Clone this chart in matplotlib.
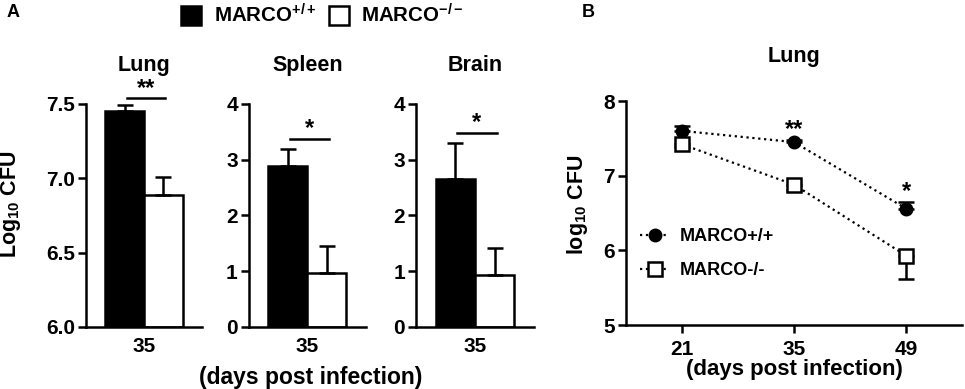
import matplotlib
matplotlib.use("Agg")
import matplotlib.pyplot as plt
from matplotlib.patches import Patch
from matplotlib.lines import Line2D

plt.rcParams['font.family'] = 'Liberation Sans'
plt.rcParams['font.weight'] = 'bold'
plt.rcParams['mathtext.fontset'] = 'custom'
plt.rcParams['mathtext.rm'] = 'Liberation Sans:bold'
plt.rcParams['mathtext.bf'] = 'Liberation Sans:bold'
plt.rcParams['mathtext.it'] = 'Liberation Sans:bold'

# panel A: day 35, log10 CFU per organ
organs = ['Lung', 'Spleen', 'Brain']
wt_means = [7.45, 2.88, 2.65]
wt_err = [0.04, 0.32, 0.65]
ko_means = [6.89, 0.97, 0.93]
ko_err = [0.12, 0.48, 0.48]
ylims = [(6.0, 7.5), (0, 4), (0, 4)]
yticks = [[6.0, 6.5, 7.0, 7.5], [0, 1, 2, 3, 4], [0, 1, 2, 3, 4]]
ytick_labels = [['6.0', '6.5', '7.0', '7.5'], ['0', '1', '2', '3', '4'], ['0', '1', '2', '3', '4']]
sig_y = [7.54, 3.38, 3.48]
sig_txt = ['**', '*', '*']

# panel B: lung time course
days = [21, 35, 49]
wt_lung = [7.60, 7.45, 6.56]
wt_lung_up = [0.06, 0.03, 0.09]
ko_lung = [7.42, 6.88, 5.93]
ko_lung_down = [0.04, 0.07, 0.31]
sig_b = ['', '**', '*']
sig_b_y = [None, 7.53, 6.70]

fig = plt.figure(figsize=(9.65, 3.89), dpi=100)

lefts = [0.0891, 0.2580, 0.4311]
widths = [0.1202, 0.1212, 0.1223]

def style_ax(ax):
    for s in ['top', 'right']:
        ax.spines[s].set_visible(False)
    for s in ['left', 'bottom']:
        ax.spines[s].set_linewidth(1.8)
    ax.tick_params(axis='both', width=1.8, length=6, labelsize=15, pad=2)

for i in range(3):
    ax = fig.add_axes([lefts[i], 0.1594, widths[i], 0.5733])
    lo, hi = ylims[i]
    ax.bar(-0.5, wt_means[i] - lo, bottom=lo, width=1, color='black', edgecolor='black', linewidth=1.8)
    ax.bar(0.5, ko_means[i] - lo, bottom=lo, width=1, color='white', edgecolor='black', linewidth=1.8)
    ax.errorbar([-0.5], [wt_means[i]], yerr=[[0], [wt_err[i]]], fmt='none', ecolor='black',
                elinewidth=1.8, capsize=6, capthick=1.8, clip_on=False)
    ax.errorbar([0.5], [ko_means[i]], yerr=[[0], [ko_err[i]]], fmt='none', ecolor='black',
                elinewidth=1.8, capsize=6, capthick=1.8, clip_on=False)
    ax.plot([-0.45, 0.55], [sig_y[i], sig_y[i]], color='black', lw=1.8, clip_on=False)
    ax.annotate(sig_txt[i], (0.05, sig_y[i]), xytext=(0, 2.5), textcoords='offset points',
                ha='center', va='baseline', fontsize=17, fontweight='bold', annotation_clip=False)
    ax.set_xlim(-1.5, 1.5)
    ax.set_ylim(lo, hi)
    ax.set_yticks(yticks[i])
    ax.set_yticklabels(ytick_labels[i])
    ax.set_xticks([0])
    ax.set_xticklabels(['35'])
    style_ax(ax)
    ax.tick_params(axis='x', length=0, pad=7)
    ax.set_title(organs[i], fontsize=15.5, fontweight='bold', pad=24)

fig.text(11 / 965, 1 - 204 / 389, 'Log$_{10}$ CFU', rotation=90, ha='center', va='center',
         fontsize=15.5, fontweight='bold')
fig.text(0.322, 0.03, '(days post infection)', ha='center', va='center', fontsize=16.5, fontweight='bold')

# panel B
axb = fig.add_axes([0.6487, 0.1645, 0.3482, 0.5758])
axb.errorbar(days, wt_lung, yerr=[[0, 0, 0], wt_lung_up], color='black', ls=':', lw=1.6,
             marker='o', ms=9, mfc='black', mec='black', ecolor='black', elinewidth=1.8,
             capsize=6, capthick=1.8)
axb.errorbar(days, ko_lung, yerr=[ko_lung_down, [0, 0, 0]], color='black', ls=':', lw=1.6,
             marker='s', ms=10, mfc='white', mec='black', mew=1.8, ecolor='black', elinewidth=1.8,
             capsize=6, capthick=1.8)
for d, s, y in zip(days, sig_b, sig_b_y):
    if s:
        axb.text(d, y, s, ha='center', va='baseline', fontsize=17, fontweight='bold')
axb.set_xlim(14, 56)
axb.set_ylim(5, 8)
axb.set_xticks(days)
axb.set_yticks([5, 6, 7, 8])
style_ax(axb)
axb.tick_params(axis='x', pad=5)
axb.set_xlabel('(days post infection)', fontsize=16, fontweight='bold', labelpad=0)
axb.set_title('Lung', fontsize=15.5, fontweight='bold', pad=28)
fig.text(578 / 965, 1 - 205 / 389, 'log$_{10}$ CFU', rotation=90, ha='center', va='center',
         fontsize=15.5, fontweight='bold')
leg_handles = [Line2D([], [], color='black', ls=':', lw=1.6, marker='o', ms=9, mfc='black', mec='black'),
               Line2D([], [], color='black', ls=':', lw=1.6, marker='s', ms=10, mfc='white', mec='black', mew=1.8)]
axb.legend(leg_handles, ['MARCO+/+', 'MARCO-/-'], loc='upper left', bbox_to_anchor=(0.042, 0.433),
           frameon=False, fontsize=13, handlelength=1.6, handletextpad=0.6, labelspacing=0.95,
           borderaxespad=0, borderpad=0)

# top legend for panel A
fig.legend([Patch(facecolor='black', edgecolor='black', lw=1.8),
            Patch(facecolor='white', edgecolor='black', lw=1.8)],
           ['MARCO$^{+/+}$', 'MARCO$^{-/-}$'], loc='center', bbox_to_anchor=(0.334, 0.962), ncol=2,
           frameon=False, fontsize=14.8, handlelength=1.0, handleheight=1.0, columnspacing=0.6,
           handletextpad=0.6)

fig.text(0.007, 0.967, 'A', fontsize=13, fontweight='bold', va='center')
fig.text(0.603, 0.967, 'B', fontsize=13, fontweight='bold', va='center')

fig.savefig('out.png', dpi=100)
